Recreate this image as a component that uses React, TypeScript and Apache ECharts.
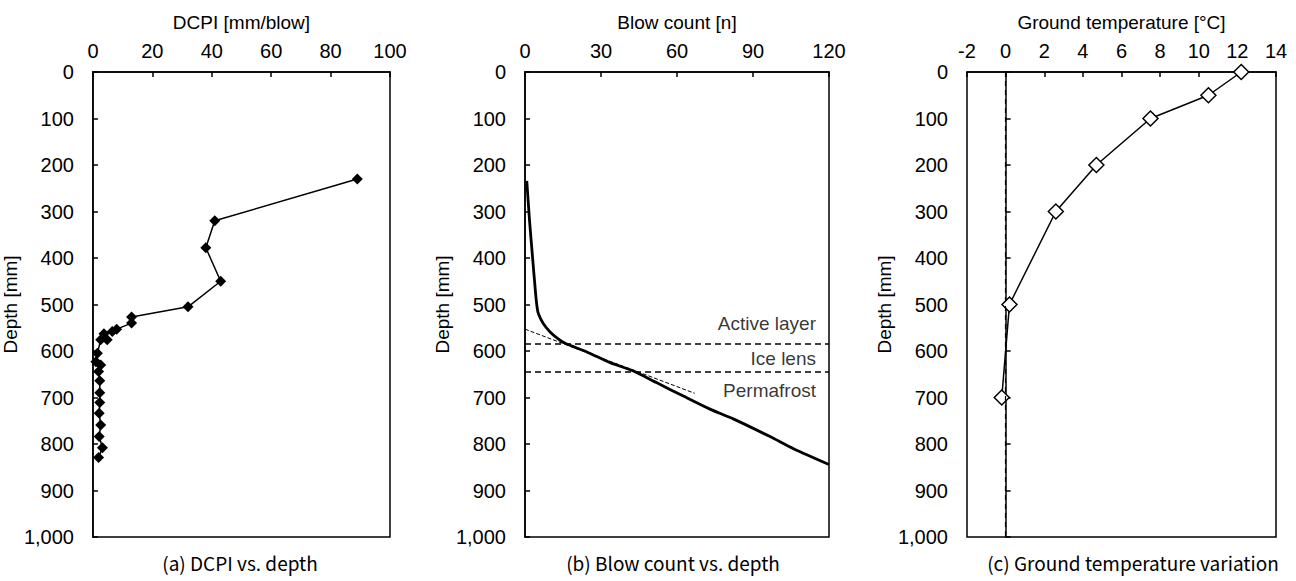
import React, { useEffect, useRef } from "react";
import * as echarts from "echarts";

// Panel (a): DCPI vs depth
const dcpiValues = [89, 41, 38, 43, 32, 13, 13, 8, 6.5, 3.7, 4.8, 2.6, 1.5, 1, 2.6, 1.9, 2.3, 2.3, 2.3, 2.1, 2.6, 2.1, 3.2, 1.9];
const dcpiDepths = [230, 320, 378, 450, 505, 527, 540, 553, 558, 563, 576, 576, 605, 623, 630, 644, 664, 690, 711, 734, 759, 784, 808, 829];

// Panel (b): blow count vs depth
const blowCounts = [0.7, 1.8, 3.0, 4.2, 4.8, 5.3, 7.2, 9.9, 13.1, 16, 24.4, 33.6, 42.8, 51.9, 62.5, 73, 82.2, 96.7, 106, 120];
const blowDepths = [234, 320, 400, 477, 507, 520, 541, 559, 574, 584, 602, 625, 643, 668, 697, 725, 746, 784, 810, 844];
const tangentCounts = [0, 67];
const tangentDepths = [553, 691];
const boundaryDepths = [585, 645];
const layerNames = ["Active layer", "Ice lens", "Permafrost"];
const layerLabelDepths = [541, 617, 686];

// Panel (c): ground temperature
const tempValues = [12.2, 10.5, 7.5, 4.7, 2.6, 0.2, -0.2];
const tempDepths = [0, 50, 100, 200, 300, 500, 700];

const captions = ["(a) DCPI vs. depth", "(b) Blow count vs. depth", "(c) Ground temperature variation"];
const xNames = ["DCPI [mm/blow]", "Blow count [n]", "Ground temperature [°C]"];

const FONT = "'Liberation Sans', Arial, sans-serif";

const zip = (a: number[], b: number[]) => a.map((v, i) => [v, b[i]]);

export default function App() {
  const ref = useRef<HTMLDivElement>(null);
  useEffect(() => {
    if (!ref.current) return;
    const chart = echarts.init(ref.current, undefined, { renderer: "svg" });
    const grids = [
      { left: 87, width: 303 },
      { left: 525, width: 304 },
      { left: 967, width: 309 },
    ].map((g) => ({
      ...g,
      top: 72,
      height: 465,
      show: true,
      borderColor: "#000",
      borderWidth: 1.5,
      backgroundColor: "transparent",
    }));
    const xRanges = [
      { min: 0, max: 100, interval: 20 },
      { min: 0, max: 120, interval: 30 },
      { min: -2, max: 14, interval: 2 },
    ];
    const xAxes = xRanges.map((r, i) => ({
      type: "value",
      gridIndex: i,
      position: "top",
      ...r,
      name: xNames[i],
      nameLocation: "middle",
      nameGap: 40,
      nameTextStyle: { fontFamily: FONT, fontSize: 19, color: "#000" },
      axisLine: { show: true, lineStyle: { color: "#000", width: 1.5 } },
      axisTick: { show: true, inside: true, length: 5, lineStyle: { color: "#000", width: 1.5 } },
      axisLabel: { fontFamily: FONT, fontSize: 20, color: "#000", margin: 11 },
      splitLine: { show: false },
    }));
    const yAxes = [0, 1, 2].map((i) => ({
      type: "value",
      gridIndex: i,
      inverse: true,
      min: 0,
      max: 1000,
      interval: 100,
      name: "Depth [mm]",
      nameLocation: "middle",
      nameGap: 63,
      nameTextStyle: { fontFamily: FONT, fontSize: 19, color: "#000" },
      axisLine: { show: true, lineStyle: { color: "#000", width: 1.5 } },
      axisTick: { show: true, inside: true, length: 5, lineStyle: { color: "#000", width: 1.5 } },
      axisLabel: {
        fontFamily: FONT,
        fontSize: 20,
        color: "#000",
        margin: 19,
        formatter: (v: number) => v.toLocaleString("en-US"),
      },
      splitLine: { show: false },
    }));

    const option: any = {
      animation: false,
      backgroundColor: "#fff",
      grid: grids,
      xAxis: xAxes,
      yAxis: yAxes,
      series: [
        {
          type: "line",
          xAxisIndex: 0,
          yAxisIndex: 0,
          data: zip(dcpiValues, dcpiDepths),
          symbol: "diamond",
          symbolSize: [11, 11],
          itemStyle: { color: "#000" },
          lineStyle: { color: "#000", width: 1.5 },
        },
        {
          type: "line",
          xAxisIndex: 1,
          yAxisIndex: 1,
          data: zip(blowCounts, blowDepths),
          showSymbol: false,
          symbol: "none",
          smooth: 0.25,
          lineStyle: { color: "#000", width: 2.8 },
          markLine: {
            silent: true,
            symbol: "none",
            label: { show: false },
            lineStyle: { color: "#000", type: [6, 4], width: 1.5 },
            data: boundaryDepths.map((d) => ({ yAxis: d })),
          },
        },
        {
          type: "line",
          xAxisIndex: 1,
          yAxisIndex: 1,
          data: zip(tangentCounts, tangentDepths),
          symbol: "none",
          lineStyle: { color: "#000", width: 1, type: [4, 2] },
        },
        {
          type: "scatter",
          xAxisIndex: 1,
          yAxisIndex: 1,
          symbolSize: 0,
          data: layerNames.map((n, i) => ({ name: n, value: [120, layerLabelDepths[i]] })),
          label: {
            show: true,
            position: "left",
            distance: 13,
            formatter: (p: any) => p.name,
            fontFamily: FONT,
            fontSize: 19,
            color: "#000",
          },
        },
        {
          type: "line",
          xAxisIndex: 2,
          yAxisIndex: 2,
          data: zip(tempValues, tempDepths),
          symbol: "diamond",
          symbolSize: [15, 15],
          itemStyle: { color: "#fff", borderColor: "#000", borderWidth: 1.5 },
          lineStyle: { color: "#000", width: 1.5 },
          z: 3,
          markLine: {
            silent: true,
            symbol: "none",
            label: { show: false },
            lineStyle: { color: "#000", type: [5, 4], width: 1.2 },
            data: [{ xAxis: 0 }],
          },
        },
      ],
      graphic: captions.map((c, i) => ({
        type: "text",
        x: [240, 673, 1133][i],
        y: 562,
        style: {
          text: c,
          font: "19px 'Noto Sans CJK KR', sans-serif",
          fill: "#000",
          align: "center",
          verticalAlign: "middle",
        },
      })),
    };
    chart.setOption(option);
    return () => chart.dispose();
  }, []);
  return (
    <div
      ref={ref}
      style={{ position: "fixed", left: 0, top: 0, width: 1296, height: 581 }}
    />
  );
}
